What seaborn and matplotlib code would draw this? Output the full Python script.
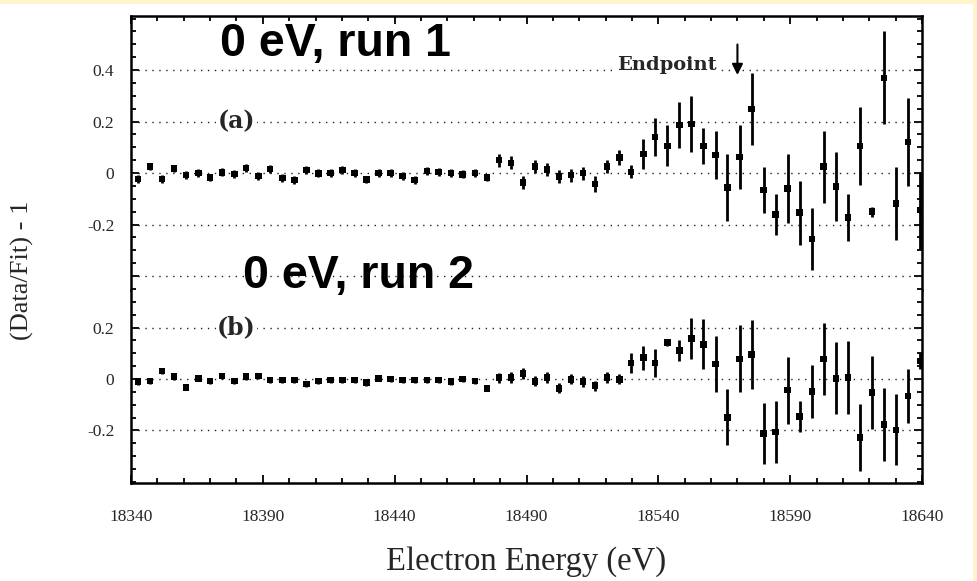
import numpy as np
import pandas as pd
import matplotlib
matplotlib.use("Agg")
import matplotlib.pyplot as plt
from matplotlib.patches import Rectangle
from matplotlib.ticker import MultipleLocator, FixedLocator
import seaborn as sns

# Electron energies of the analysed spectrum points (eV)
energy = [
    18342.7, 18347.2, 18351.8, 18356.3, 18360.9, 18365.5, 18370.0, 18374.6,
    18379.2, 18383.7, 18388.3, 18392.8, 18397.4, 18402.0, 18406.5, 18411.1,
    18415.7, 18420.2, 18424.8, 18429.3, 18433.9, 18438.5, 18443.0, 18447.6,
    18452.2, 18456.7, 18461.3, 18465.8, 18470.4, 18475.0, 18479.5, 18484.1,
    18488.7, 18493.2, 18497.8, 18502.3, 18506.9, 18511.5, 18516.0, 18520.6,
    18525.2, 18529.7, 18534.3, 18538.8, 18543.4, 18548.0, 18552.5, 18557.1,
    18561.7, 18566.2, 18570.8, 18575.4, 18579.9, 18584.5, 18589.0, 18593.6,
    18598.2, 18602.7, 18607.3, 18611.9, 18616.4, 18621.0, 18625.5, 18630.1,
    18634.7, 18639.3,
]

# Run 1: residuals (Data/Fit - 1) and their uncertainties
run1_ratio = [
    -0.023, 0.025, -0.023, 0.018, -0.008, 0.000, -0.017, 0.003,
    -0.004, 0.020, -0.012, 0.016, -0.020, -0.027, 0.012, -0.001,
    0.000, 0.012, 0.000, -0.025, 0.000, 0.000, -0.012, -0.027,
    0.008, 0.005, 0.000, -0.005, 0.000, -0.017, 0.050, 0.040,
    -0.036, 0.025, 0.014, -0.014, -0.008, 0.000, -0.043, 0.025,
    0.060, 0.005, 0.074, 0.140, 0.106, 0.186, 0.190, 0.106,
    0.070, -0.057, 0.063, 0.249, -0.066, -0.160, -0.060, -0.154,
    -0.256, 0.025, -0.053, -0.172, 0.105, -0.150, 0.370, -0.118,
    0.120, -0.144,
]
run1_err = [
    0.015, 0.015, 0.015, 0.015, 0.015, 0.015, 0.015, 0.015,
    0.015, 0.015, 0.015, 0.015, 0.015, 0.015, 0.015, 0.015,
    0.015, 0.015, 0.015, 0.015, 0.015, 0.015, 0.015, 0.015,
    0.015, 0.015, 0.015, 0.015, 0.015, 0.015, 0.025, 0.025,
    0.025, 0.025, 0.025, 0.025, 0.025, 0.025, 0.030, 0.025,
    0.030, 0.025, 0.060, 0.075, 0.080, 0.090, 0.110, 0.070,
    0.094, 0.130, 0.125, 0.140, 0.090, 0.080, 0.135, 0.125,
    0.120, 0.140, 0.133, 0.090, 0.150, 0.020, 0.180, 0.140,
    0.170, 0.150,
]

# Run 2: residuals (Data/Fit - 1) and their uncertainties
run2_ratio = [
    -0.010, -0.008, 0.032, 0.010, -0.032, 0.003, -0.008, 0.012,
    -0.008, 0.010, 0.012, -0.004, -0.004, -0.004, -0.020, -0.008,
    -0.004, -0.004, -0.004, -0.014, 0.003, 0.000, -0.004, -0.004,
    -0.004, -0.004, -0.010, 0.000, -0.008, -0.036, 0.005, 0.006,
    0.022, -0.009, 0.006, -0.036, -0.001, -0.010, -0.026, 0.006,
    -0.001, 0.063, 0.083, 0.063, 0.141, 0.110, 0.158, 0.135,
    0.058, -0.149, 0.078, 0.096, -0.211, -0.205, -0.043, -0.146,
    -0.049, 0.078, 0.003, 0.006, -0.227, -0.053, -0.176, -0.198,
    -0.066, 0.070,
]
run2_err = [
    0.012, 0.012, 0.012, 0.012, 0.012, 0.012, 0.012, 0.012,
    0.012, 0.012, 0.012, 0.012, 0.012, 0.012, 0.012, 0.012,
    0.012, 0.012, 0.012, 0.012, 0.012, 0.012, 0.012, 0.012,
    0.012, 0.012, 0.012, 0.012, 0.012, 0.012, 0.020, 0.020,
    0.020, 0.020, 0.020, 0.020, 0.020, 0.020, 0.020, 0.020,
    0.020, 0.040, 0.047, 0.054, 0.012, 0.040, 0.080, 0.097,
    0.110, 0.109, 0.130, 0.134, 0.118, 0.120, 0.130, 0.060,
    0.102, 0.139, 0.139, 0.142, 0.130, 0.142, 0.142, 0.138,
    0.105, 0.030,
]

x_ticks = [18340, 18390, 18440, 18490, 18540, 18590, 18640]
x_tick_labels = ["18340", "18390", "18440", "18490", "18540", "18590", "18640"]
endpoint_energy = 18570

sns.set_theme(style="ticks")
plt.rcParams["font.family"] = ["Liberation Serif", "DejaVu Serif"]
plt.rcParams["axes.edgecolor"] = "black"

fig = plt.figure(figsize=(9.77, 5.81), dpi=100, facecolor="#fff4cc")
fig.patches.append(Rectangle((0, 0), 973 / 977, 1 - 4 / 581,
                             transform=fig.transFigure, facecolor="white",
                             edgecolor="none", zorder=-10))

ax_a = fig.add_axes([0.1341, 0.5009, 0.8096, 0.4716])
ax_b = fig.add_axes([0.1341, 0.1687, 0.8096, 0.3322], sharex=ax_a)


def draw_panel(ax, ratio, err, ylim, grid_levels):
    df = pd.DataFrame({"energy": energy, "ratio": ratio, "err": err})
    ax.set_facecolor("white")
    for level in grid_levels:
        ax.axhline(level, color="#222222", lw=1.0, ls=(0, (1, 4)), zorder=1)
    ax.vlines(df["energy"], df["ratio"] - df["err"], df["ratio"] + df["err"],
              color="black", lw=2.0, zorder=3)
    sns.scatterplot(data=df, x="energy", y="ratio", marker="s", s=22,
                    color="black", edgecolor="none", ax=ax, zorder=4,
                    legend=False)
    ax.set_xlim(18340, 18640)
    ax.set_ylim(*ylim)
    ax.set_xlabel("")
    ax.set_ylabel("")
    for side in ax.spines.values():
        side.set_linewidth(1.8)
        side.set_color("black")
    ax.yaxis.set_minor_locator(MultipleLocator(0.05))
    ax.xaxis.set_minor_locator(MultipleLocator(10))
    ax.tick_params(which="both", direction="in", left=True, right=True,
                   color="black", width=1.3, labelsize=12.5, pad=12)
    ax.tick_params(which="major", length=6)
    ax.tick_params(which="minor", length=3.5)


draw_panel(ax_a, run1_ratio, run1_err, (-0.454, 0.61), [0.4, 0.2, 0.0, -0.2, -0.4])
draw_panel(ax_b, run2_ratio, run2_err, (-0.404, 0.346), [0.2, 0.0, -0.2])

# Top panel: no bottom frame, ticks on top
ax_a.spines["bottom"].set_visible(False)
ax_a.tick_params(which="both", top=True, bottom=False, labelbottom=False)
ax_a.yaxis.set_major_locator(FixedLocator([-0.4, -0.2, 0.0, 0.2, 0.4]))
ax_a.set_yticklabels(["", "-0.2", "0", "0.2", "0.4"])

# Bottom panel: no top frame, energy axis below
ax_b.spines["top"].set_visible(False)
ax_b.tick_params(which="both", top=False, bottom=True)
ax_b.yaxis.set_major_locator(FixedLocator([-0.2, 0.0, 0.2]))
ax_b.set_yticklabels(["-0.2", "0", "0.2"])
ax_b.set_xticks(x_ticks)
ax_b.set_xticklabels(x_tick_labels)
ax_b.tick_params(axis="x", which="major", pad=19)
ax_b.set_xlabel("Electron Energy (eV)", fontsize=23.5, labelpad=15)

fig.text(0.0225, 0.535, "(Data/Fit) - 1", rotation=90, ha="center",
         va="center", fontsize=19)

# Panel tags
tag_style = dict(ha="center", va="center", fontsize=17, weight="bold",
                 family=["DejaVu Serif"], zorder=5,
                 bbox=dict(facecolor="white", edgecolor="none", pad=1))
ax_a.text(18380, 0.2, "(a)", **tag_style)
ax_b.text(18380, 0.2, "(b)", **tag_style)

# Endpoint marker
ax_a.text(18562, 0.419, "Endpoint", ha="right", va="center", fontsize=14,
          weight="bold", family=["DejaVu Serif"], zorder=5,
          bbox=dict(facecolor="white", edgecolor="none", pad=1))
ax_a.annotate("", xy=(endpoint_energy, 0.37), xytext=(endpoint_energy, 0.51),
              arrowprops=dict(arrowstyle="-|>", color="black", lw=1.5,
                              mutation_scale=16), zorder=5)

# Run captions
sans_bold = dict(family=["Liberation Sans", "DejaVu Sans"], weight="bold",
                 fontsize=33.5, ha="left", va="center", color="black")
fig.text(220 / 977, 1 - 44 / 581, "0 eV, run 1", **sans_bold)
fig.text(243 / 977, 1 - 276 / 581, "0 eV, run 2", **sans_bold)

fig.savefig("out.png", dpi=100, facecolor=fig.get_facecolor())
